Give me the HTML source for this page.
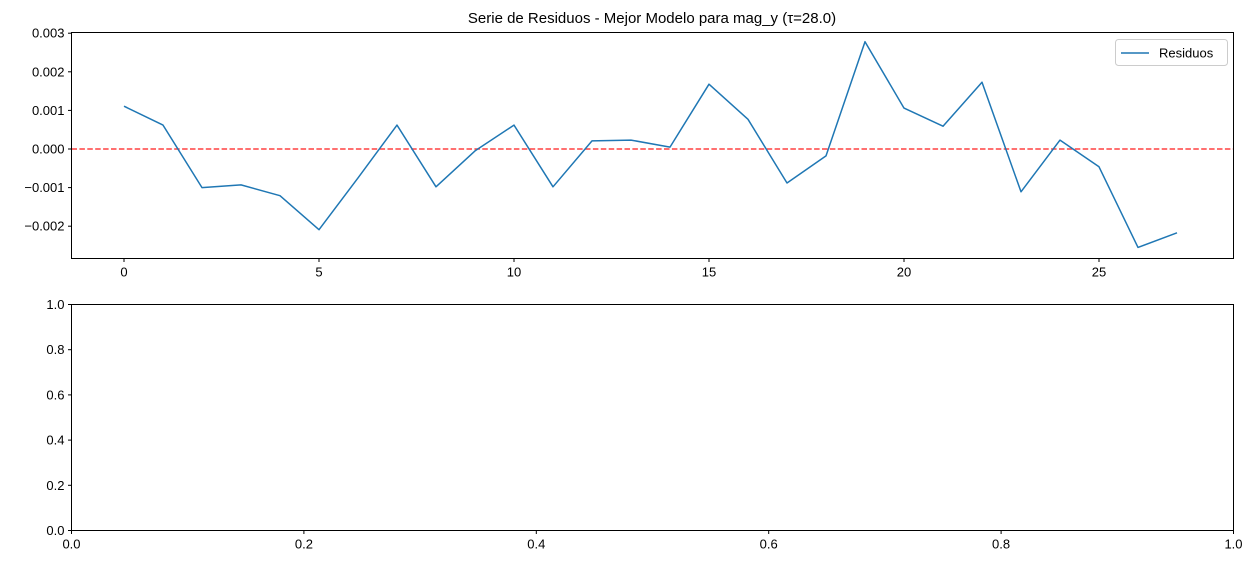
<!DOCTYPE html>
<html><head><meta charset="utf-8"><style>
body{margin:0;background:#fff;}
svg text{font-family:"Liberation Sans","DejaVu Sans",sans-serif;font-size:13px;fill:#000;}
</style></head><body>
<svg id="chart" width="1254" height="564" xmlns="http://www.w3.org/2000/svg">
<rect width="1254" height="564" fill="#fff"/>
<text x="652" y="23" text-anchor="middle" style="font-size:15px">Serie de Residuos - Mejor Modelo para mag_y (τ=28.0)</text>
<g id="topAxes"></g>
<g id="bottomAxes"></g>
</svg>
<script>
const xIdx = [0,1,2,3,4,5,6,7,8,9,10,11,12,13,14,15,16,17,18,19,20,21,22,23,24,25,26,27];
const residuals = [1.11,0.62,-1.0,-0.93,-1.21,-2.09,-0.75,0.62,-0.98,-0.05,0.62,-0.98,0.21,0.23,0.05,1.68,0.77,-0.88,-0.18,2.78,1.06,0.59,1.73,-1.11,0.23,-0.46,-2.55,-2.17].map(v=>v/1000);
const topXTicks = [0,5,10,15,20,25];
const topYTicks = [0.003,0.002,0.001,0,-0.001,-0.002];
const topYLabels = ["0.003","0.002","0.001","0.000","\u22120.001","\u22120.002"];
const botTicks = [0,0.2,0.4,0.6,0.8,1.0];
const botLabels = ["0.0","0.2","0.4","0.6","0.8","1.0"];

const NS="http://www.w3.org/2000/svg";
function mk(parent,tag,attrs,text){const e=document.createElementNS(NS,tag);for(const k in attrs)e.setAttribute(k,attrs[k]);if(text!==undefined)e.textContent=text;parent.appendChild(e);return e;}

const L=71.5,R=1233.5;
const T1=32.5,B1=258.5;
const xs=v=>124+(v)*39.0;
const ys=v=>149-v*38.6*1000;
const gTop=document.getElementById('topAxes');
const zl=mk(gTop,'line',{x1:L,x2:R,y1:ys(0),y2:ys(0),stroke:'#ff0000','stroke-opacity':0.75,'stroke-width':1.5,'stroke-dasharray':'5.5,2.4'});


const pts=xIdx.map((x,i)=>xs(x).toFixed(1)+','+ys(residuals[i]).toFixed(1)).join(' ');
const resLine=mk(gTop,'polyline',{points:pts,fill:'none',stroke:'#1f77b4','stroke-width':1.5,'stroke-linejoin':'round'});


const f1=mk(gTop,'rect',{x:L,y:T1,width:R-L,height:B1-T1,fill:'none',stroke:'#000','stroke-width':1});


topXTicks.forEach(t=>{const x=xs(t);mk(gTop,'line',{x1:x,x2:x,y1:B1,y2:B1+3.5,stroke:'#000'});
 const tx=mk(gTop,'text',{x:x,y:B1+18,'text-anchor':'middle'},String(t));
 
 });
topYTicks.forEach((t,i)=>{const y=ys(t);mk(gTop,'line',{x1:L-3.5,x2:L,y1:y,y2:y,stroke:'#000'});
 const tx=mk(gTop,'text',{x:L-7,y:y+4.5,'text-anchor':'end'},topYLabels[i]);
 
 });
const lg=mk(gTop,'g',{});


mk(lg,'rect',{x:1115.5,y:39.5,width:112,height:26,rx:3,fill:'#fff',stroke:'#ccc'});
mk(lg,'line',{x1:1121,x2:1149,y1:53,y2:53,stroke:'#1f77b4','stroke-width':1.5});
mk(lg,'text',{x:1159,y:57.5},'Residuos');

const T2=304.5,B2=530.5;
const bx=v=>L+v*(R-L), by=v=>B2-v*(B2-T2);
const gBot=document.getElementById('bottomAxes');
const f2=mk(gBot,'rect',{x:L,y:T2,width:R-L,height:B2-T2,fill:'none',stroke:'#000'});


botTicks.forEach((t,i)=>{const x=bx(t);mk(gBot,'line',{x1:x,x2:x,y1:B2,y2:B2+3.5,stroke:'#000'});
 const tx=mk(gBot,'text',{x:x,y:B2+18,'text-anchor':'middle'},botLabels[i]);
 
 
 const y=by(t);mk(gBot,'line',{x1:L-3.5,x2:L,y1:y,y2:y,stroke:'#000'});
 const ty=mk(gBot,'text',{x:L-7,y:y+4.5,'text-anchor':'end'},botLabels[i]);
 
 });
</script>
</body></html>
